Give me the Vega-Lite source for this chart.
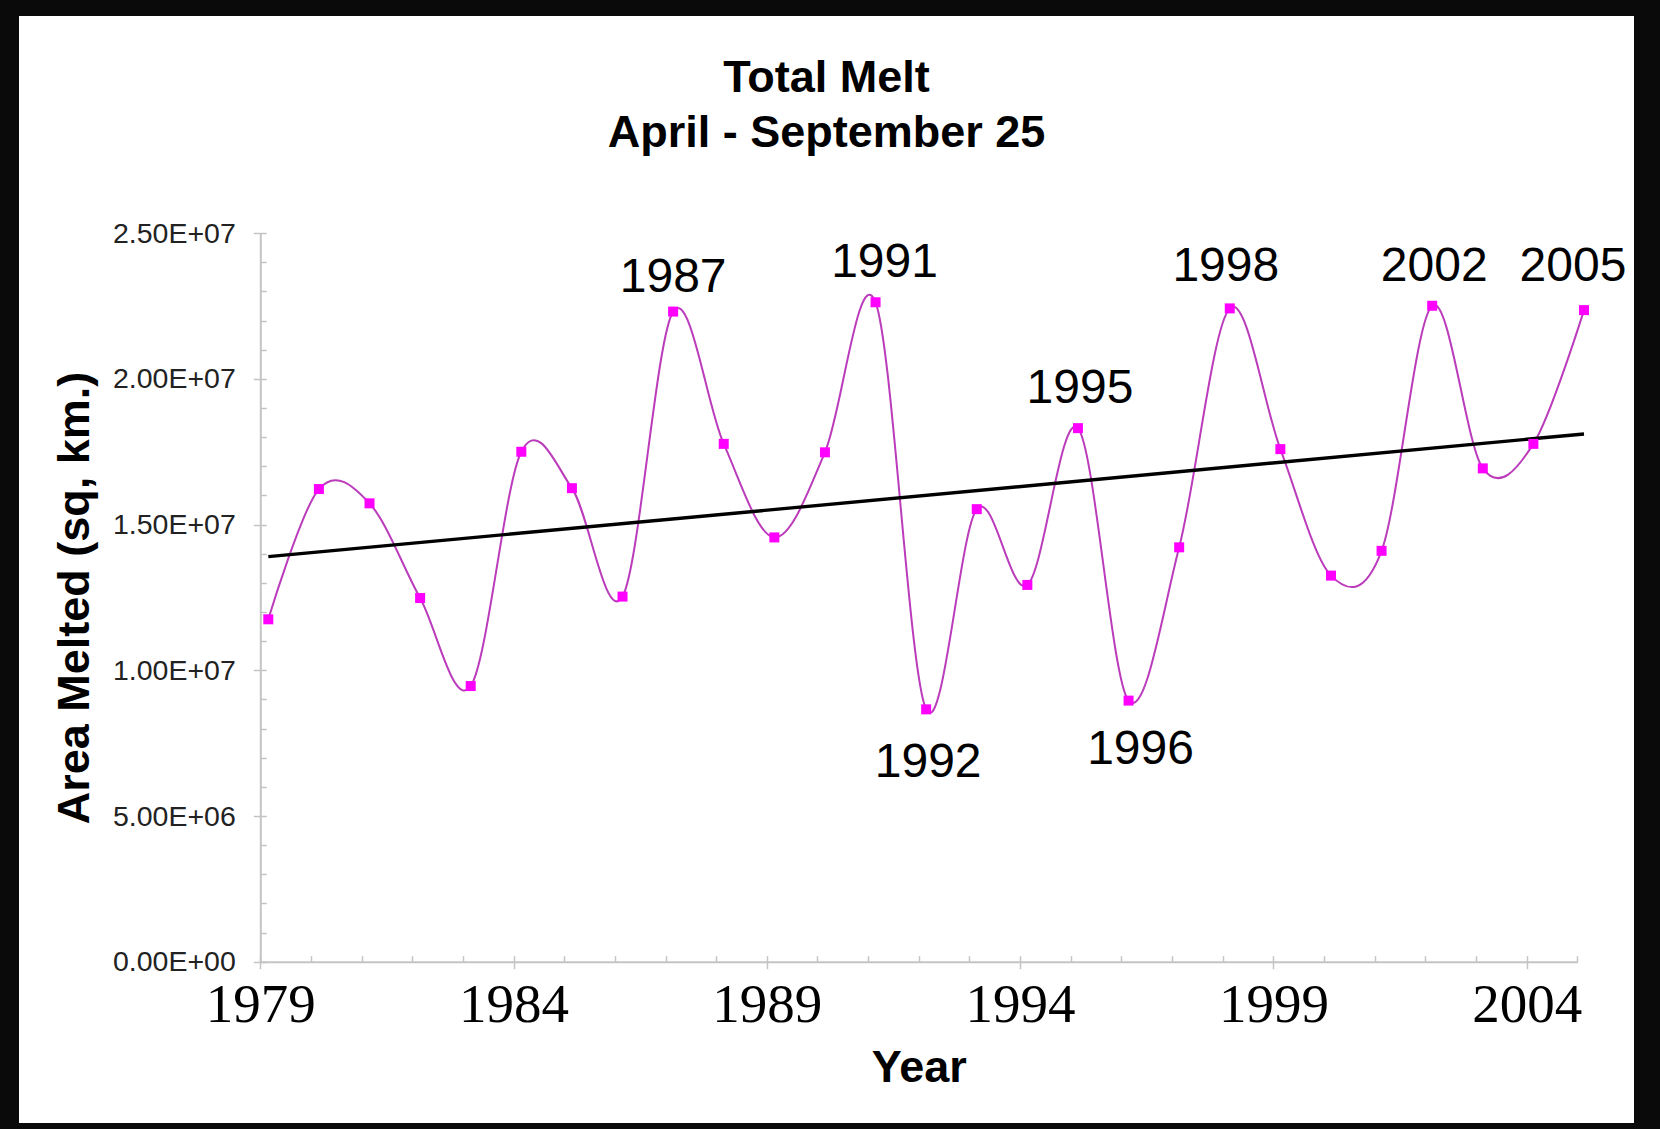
{
  "$schema": "https://vega.github.io/schema/vega-lite/v6.json",
  "width": 1615,
  "height": 1107,
  "autosize": {"type": "none"},
  "padding": {"left": 19, "top": 16, "right": 26, "bottom": 6},
  "background": "#0a0a0a",
  "view": {"fill": "white", "stroke": null},
  "title": {
    "text": ["Total Melt", "April - September 25"],
    "font": "Liberation Sans",
    "fontSize": 45,
    "fontWeight": "bold",
    "color": "#000000",
    "lineHeight": 55,
    "anchor": "middle",
    "frame": "group",
    "offset": -140
  },
  "datasets": {
    "melt": [
      {"year": 1979, "area": 11750000},
      {"year": 1980, "area": 16220000},
      {"year": 1981, "area": 15730000},
      {"year": 1982, "area": 12480000},
      {"year": 1983, "area": 9460000},
      {"year": 1984, "area": 17500000},
      {"year": 1985, "area": 16250000},
      {"year": 1986, "area": 12530000},
      {"year": 1987, "area": 22310000},
      {"year": 1988, "area": 17770000},
      {"year": 1989, "area": 14560000},
      {"year": 1990, "area": 17480000},
      {"year": 1991, "area": 22630000},
      {"year": 1992, "area": 8660000},
      {"year": 1993, "area": 15530000},
      {"year": 1994, "area": 12930000},
      {"year": 1995, "area": 18310000},
      {"year": 1996, "area": 8960000},
      {"year": 1997, "area": 14220000},
      {"year": 1998, "area": 22420000},
      {"year": 1999, "area": 17590000},
      {"year": 2000, "area": 13250000},
      {"year": 2001, "area": 14100000},
      {"year": 2002, "area": 22510000},
      {"year": 2003, "area": 16930000},
      {"year": 2004, "area": 17770000},
      {"year": 2005, "area": 22360000}
    ],
    "trend": [
      {"year": 1979, "trend": 13900000},
      {"year": 2005, "trend": 18110000}
    ]
  },
  "layer": [
    {
      "data": {"name": "melt"},
      "mark": {"type": "point", "opacity": 0},
      "encoding": {
        "x": {
          "field": "year", "type": "quantitative",
          "scale": {"domain": [1979, 2005], "range": [241.3, 1558.3], "nice": false, "zero": false},
          "axis": {
            "orient": "bottom", "offset": -161.3,
            "values": [1979,1980,1981,1982,1983,1984,1985,1986,1987,1988,1989,1990,1991,1992,1993,1994,1995,1996,1997,1998,1999,2000,2001,2002,2003,2004,2005],
            "labels": false, "title": null, "grid": false,
            "domain": true, "domainColor": "#c4c4c4", "domainWidth": 2,
            "ticks": true, "tickSize": -6, "tickColor": "#c4c4c4", "tickWidth": 1.5
          }
        },
        "y": {
          "field": "area", "type": "quantitative",
          "scale": {"domain": [0, 25000000], "range": [945.7, 217.2], "nice": false, "zero": false},
          "axis": {
            "orient": "left", "offset": -241.3,
            "values": [0,1000000,2000000,3000000,4000000,5000000,6000000,7000000,8000000,9000000,10000000,11000000,12000000,13000000,14000000,15000000,16000000,17000000,18000000,19000000,20000000,21000000,22000000,23000000,24000000,25000000],
            "labels": false, "title": null, "grid": false,
            "domain": true, "domainColor": "#c4c4c4", "domainWidth": 2,
            "ticks": true, "tickSize": -6, "tickColor": "#c4c4c4", "tickWidth": 1.5
          }
        }
      }
    },
    {
      "data": {"name": "melt"},
      "mark": {"type": "point", "opacity": 0},
      "encoding": {
        "x": {
          "field": "year", "type": "quantitative",
          "scale": {"domain": [1979, 2005], "range": [241.3, 1558.3], "nice": false, "zero": false},
          "axis": {
            "orient": "bottom", "offset": -161.3,
            "values": [1979, 1984, 1989, 1994, 1999, 2004],
            "format": "d",
            "grid": false, "domain": false,
            "ticks": true, "tickSize": 7, "tickColor": "#c4c4c4", "tickWidth": 1.5,
            "labelFont": "Liberation Serif", "labelFontSize": 55, "labelColor": "#000000",
            "labelPadding": 10, "labelFlush": false, "labelOverlap": false, "labelBound": false,
            "title": "Year", "titleFont": "Liberation Sans", "titleFontSize": 45, "titleFontWeight": "bold",
            "titleColor": "#000000", "titleY": 120, "titleBaseline": "alphabetic"
          }
        },
        "y": {
          "field": "area", "type": "quantitative",
          "scale": {"domain": [0, 25000000], "range": [945.7, 217.2], "nice": false, "zero": false},
          "axis": {
            "orient": "left", "offset": -241.3,
            "values": [0, 5000000, 10000000, 15000000, 20000000, 25000000],
            "labelExpr": "replace(format(datum.value, '.2e'), 'e+', 'E+0')",
            "grid": false, "domain": false,
            "ticks": true, "tickSize": 7, "tickColor": "#c4c4c4", "tickWidth": 1.5,
            "labelFont": "Liberation Sans", "labelFontSize": 28.5, "labelColor": "#222222",
            "labelPadding": 18, "labelOverlap": false, "labelBound": false, "labelFlush": false,
            "title": "Area Melted (sq, km.)", "titleFont": "Liberation Sans", "titleFontSize": 45,
            "titleFontWeight": "bold", "titleColor": "#000000", "titleX": -172, "titleBaseline": "alphabetic", "titleAngle": -90
          }
        }
      }
    },
    {
      "data": {"name": "melt"},
      "mark": {"type": "line", "interpolate": "cardinal", "tension": 0, "color": "#bb3cbb", "strokeWidth": 2},
      "encoding": {
        "x": {"field": "year", "type": "quantitative", "scale": {"domain": [1979, 2005], "range": [249.3, 1565], "nice": false, "zero": false}, "axis": null},
        "y": {"field": "area", "type": "quantitative", "scale": {"domain": [0, 25000000], "range": [945.7, 217.2], "nice": false, "zero": false}, "axis": null}
      }
    },
    {
      "data": {"name": "trend"},
      "mark": {"type": "line", "color": "#000000", "strokeWidth": 3.4},
      "encoding": {
        "x": {"field": "year", "type": "quantitative", "scale": {"domain": [1979, 2005], "range": [249.3, 1565], "nice": false, "zero": false}, "axis": null},
        "y": {"field": "trend", "type": "quantitative", "scale": {"domain": [0, 25000000], "range": [945.7, 217.2], "nice": false, "zero": false}, "axis": null}
      }
    },
    {
      "data": {"name": "melt"},
      "mark": {"type": "point", "shape": "square", "filled": true, "size": 100, "color": "#ff00ff", "opacity": 1},
      "encoding": {
        "x": {"field": "year", "type": "quantitative", "scale": {"domain": [1979, 2005], "range": [249.3, 1565], "nice": false, "zero": false}, "axis": null},
        "y": {"field": "area", "type": "quantitative", "scale": {"domain": [0, 25000000], "range": [945.7, 217.2], "nice": false, "zero": false}, "axis": null}
      }
    },
    {
      "data": {"name": "melt"},
      "transform": [{"filter": {"field": "year", "oneOf": [1987]}}],
      "mark": {"type": "text", "font": "Liberation Sans", "fontSize": 48, "color": "#000000", "baseline": "alphabetic", "align": "center", "dy": -20},
      "encoding": {
        "x": {"field": "year", "type": "quantitative", "scale": {"domain": [1979, 2005], "range": [249.3, 1565], "nice": false, "zero": false}, "axis": null},
        "y": {"field": "area", "type": "quantitative", "scale": {"domain": [0, 25000000], "range": [945.7, 217.2], "nice": false, "zero": false}, "axis": null},
        "text": {"field": "year", "type": "nominal"}
      }
    },
    {
      "data": {"name": "melt"},
      "transform": [{"filter": {"field": "year", "oneOf": [1991]}}],
      "mark": {"type": "text", "font": "Liberation Sans", "fontSize": 48, "color": "#000000", "baseline": "alphabetic", "align": "center", "dx": 9, "dy": -25},
      "encoding": {
        "x": {"field": "year", "type": "quantitative", "scale": {"domain": [1979, 2005], "range": [249.3, 1565], "nice": false, "zero": false}, "axis": null},
        "y": {"field": "area", "type": "quantitative", "scale": {"domain": [0, 25000000], "range": [945.7, 217.2], "nice": false, "zero": false}, "axis": null},
        "text": {"field": "year", "type": "nominal"}
      }
    },
    {
      "data": {"name": "melt"},
      "transform": [{"filter": {"field": "year", "oneOf": [1995, 2002]}}],
      "mark": {"type": "text", "font": "Liberation Sans", "fontSize": 48, "color": "#000000", "baseline": "alphabetic", "align": "center", "dx": 2, "dy": -25},
      "encoding": {
        "x": {"field": "year", "type": "quantitative", "scale": {"domain": [1979, 2005], "range": [249.3, 1565], "nice": false, "zero": false}, "axis": null},
        "y": {"field": "area", "type": "quantitative", "scale": {"domain": [0, 25000000], "range": [945.7, 217.2], "nice": false, "zero": false}, "axis": null},
        "text": {"field": "year", "type": "nominal"}
      }
    },
    {
      "data": {"name": "melt"},
      "transform": [{"filter": {"field": "year", "oneOf": [1998]}}],
      "mark": {"type": "text", "font": "Liberation Sans", "fontSize": 48, "color": "#000000", "baseline": "alphabetic", "align": "center", "dx": -4, "dy": -27},
      "encoding": {
        "x": {"field": "year", "type": "quantitative", "scale": {"domain": [1979, 2005], "range": [249.3, 1565], "nice": false, "zero": false}, "axis": null},
        "y": {"field": "area", "type": "quantitative", "scale": {"domain": [0, 25000000], "range": [945.7, 217.2], "nice": false, "zero": false}, "axis": null},
        "text": {"field": "year", "type": "nominal"}
      }
    },
    {
      "data": {"name": "melt"},
      "transform": [{"filter": {"field": "year", "oneOf": [2005]}}],
      "mark": {"type": "text", "font": "Liberation Sans", "fontSize": 48, "color": "#000000", "baseline": "alphabetic", "align": "center", "dx": -11, "dy": -29},
      "encoding": {
        "x": {"field": "year", "type": "quantitative", "scale": {"domain": [1979, 2005], "range": [249.3, 1565], "nice": false, "zero": false}, "axis": null},
        "y": {"field": "area", "type": "quantitative", "scale": {"domain": [0, 25000000], "range": [945.7, 217.2], "nice": false, "zero": false}, "axis": null},
        "text": {"field": "year", "type": "nominal"}
      }
    },
    {
      "data": {"name": "melt"},
      "transform": [{"filter": {"field": "year", "oneOf": [1992]}}],
      "mark": {"type": "text", "font": "Liberation Sans", "fontSize": 48, "color": "#000000", "baseline": "top", "align": "center", "dx": 2, "dy": 30},
      "encoding": {
        "x": {"field": "year", "type": "quantitative", "scale": {"domain": [1979, 2005], "range": [249.3, 1565], "nice": false, "zero": false}, "axis": null},
        "y": {"field": "area", "type": "quantitative", "scale": {"domain": [0, 25000000], "range": [945.7, 217.2], "nice": false, "zero": false}, "axis": null},
        "text": {"field": "year", "type": "nominal"}
      }
    },
    {
      "data": {"name": "melt"},
      "transform": [{"filter": {"field": "year", "oneOf": [1996]}}],
      "mark": {"type": "text", "font": "Liberation Sans", "fontSize": 48, "color": "#000000", "baseline": "top", "align": "center", "dx": 12, "dy": 25},
      "encoding": {
        "x": {"field": "year", "type": "quantitative", "scale": {"domain": [1979, 2005], "range": [249.3, 1565], "nice": false, "zero": false}, "axis": null},
        "y": {"field": "area", "type": "quantitative", "scale": {"domain": [0, 25000000], "range": [945.7, 217.2], "nice": false, "zero": false}, "axis": null},
        "text": {"field": "year", "type": "nominal"}
      }
    }
  ],
  "resolve": {
    "scale": {"x": "independent", "y": "independent"},
    "axis": {"x": "independent", "y": "independent"}
  }
}
